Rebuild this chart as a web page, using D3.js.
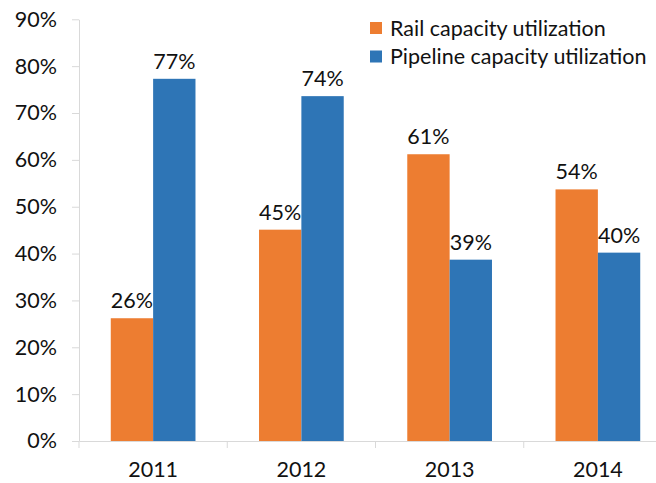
<!DOCTYPE html>
<html>
<head>
<meta charset="utf-8">
<script src="https://cdn.jsdelivr.net/npm/d3@7"></script>
<style>
  body { margin: 0; background: #fff; }
  svg text { font-family: Lato, "Open Sans", sans-serif; fill: #111; font-size: 21.5px; }
</style>
</head>
<body>
<div class="canvas"></div>
<script>
// chart data
const years = ['2011', '2012', '2013', '2014']
const seriesNames = ['Rail capacity utilization', 'Pipeline capacity utilization']
const rail = [0.262, 0.451, 0.612, 0.537]
const pipeline = [0.773, 0.736, 0.387, 0.402]
const yTicks = [0, 0.1, 0.2, 0.3, 0.4, 0.5, 0.6, 0.7, 0.8, 0.9]
const colors = ['#ED7D31', '#2E75B6']

const width = 656
const height = 483

const svg = d3.select('.canvas').append('svg').attr('width', width).attr('height', height)

// plot area runs a bit past the right edge (cropped like the original)
const plotLeft = 79, plotRight = 672, plotTop = 19.3, plotBottom = 441

const y = d3.scaleLinear()
    .domain([0, 0.9])
    .range([plotBottom, plotTop])

const x = d3.scaleBand()
    .domain(years)
    .range([plotLeft, plotRight])

// excel style 150% gap width
const x1 = d3.scaleBand()
    .domain(seriesNames)
    .range([0, x.bandwidth()])
    .paddingInner(0)
    .paddingOuter(0.75)

const rows = years.map((yr, i) => ({year: yr, values: [rail[i], pipeline[i]]}))

// bars
const groups = svg.selectAll('g.year')
    .data(rows)
    .enter()
    .append('g')
        .attr('class', 'year')
        .attr('transform', d => `translate(${x(d.year)}, 0)`)

groups.selectAll('rect')
    .data(d => d.values.map((v, j) => ({name: seriesNames[j], v, j})))
    .enter()
    .append('rect')
        .attr('x', d => x1(d.name))
        .attr('y', d => y(d.v))
        .attr('width', x1.bandwidth())
        .attr('height', d => plotBottom - y(d.v))
        .attr('fill', d => colors[d.j])

groups.selectAll('text.val')
    .data(d => d.values.map((v, j) => ({name: seriesNames[j], v, j})))
    .enter()
    .append('text')
        .attr('class', 'val')
        .attr('x', d => x1(d.name) + x1.bandwidth() / 2)
        .attr('y', d => y(d.v) - 10)
        .attr('text-anchor', 'middle')
        .text(d => d3.format('.0%')(d.v))

// y axis
const yAxis = d3.axisLeft(y)
    .tickValues(yTicks)
    .tickFormat(d3.format('.0%'))
    .tickSize(7)
    .tickSizeOuter(0)
    .tickPadding(15)

const yAxisGraph = svg.append('g').attr('transform', `translate(${plotLeft}, 0)`).call(yAxis)
yAxisGraph.selectAll('line, path').attr('stroke', '#D9D9D9')
yAxisGraph.selectAll('text').style('font-size', null)

// x axis: labels centred on bands, ticks on band edges
const xAxis = d3.axisBottom(x).tickSize(0).tickSizeOuter(0).tickPadding(21)
const xAxisGraph = svg.append('g').attr('transform', `translate(0, ${plotBottom})`).call(xAxis)
xAxisGraph.select('path').attr('stroke', '#D9D9D9')

xAxisGraph.selectAll('line.edge')
    .data(years.map(d => x(d)).concat([x(years[years.length - 1]) + x.bandwidth()]))
    .enter()
    .append('line')
        .attr('class', 'edge')
        .attr('x1', d => d).attr('x2', d => d)
        .attr('y1', 0).attr('y2', 7)
        .attr('stroke', '#D9D9D9')

// axis() sets font-family/size on the group; let the css win
svg.selectAll('g.tick text').attr('font-size', null)
yAxisGraph.attr('font-size', null).attr('font-family', null)
xAxisGraph.attr('font-size', null).attr('font-family', null)

// legend
const legend = svg.append('g').attr('transform', 'translate(370, 22)')
const items = legend.selectAll('g')
    .data(seriesNames)
    .enter()
    .append('g')
        .attr('transform', (d, i) => `translate(0, ${i * 28.5})`)

items.append('rect')
    .attr('width', 12).attr('height', 12)
    .attr('fill', (d, i) => colors[i])

items.append('text')
    .attr('x', 20)
    .attr('y', 13.5)
    .text(d => d)
</script>
</body>
</html>
